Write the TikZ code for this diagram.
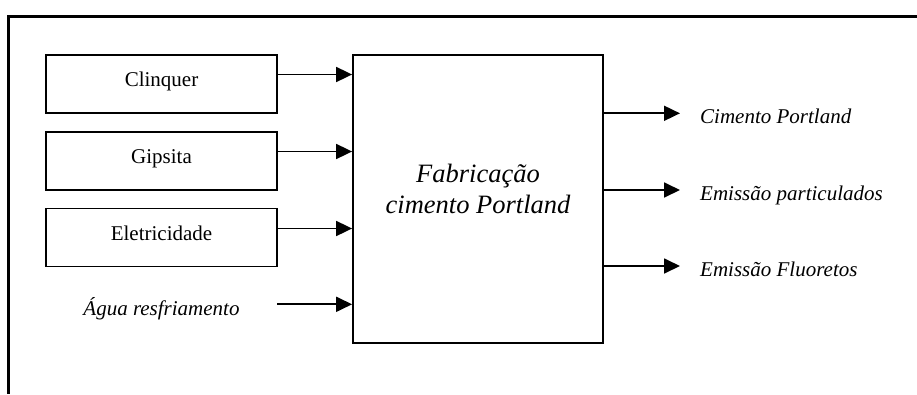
\documentclass[tikz,border=0pt]{standalone}
\usepackage{fontspec}
\setmainfont{Liberation Serif}
\usetikzlibrary{arrows.meta}
\begin{document}
\begin{tikzpicture}[x=1pt,y=-1pt,
  inbox/.style={draw,line width=1.8pt,minimum width=231pt,minimum height=58pt,inner sep=0pt,
    font=\fontsize{21}{25}\selectfont,text height=14.5pt,text depth=9.5pt},
  flow/.style={line width=1.8pt,-{Triangle[length=16pt,width=15pt]}},
  lbl/.style={anchor=base west,inner sep=0pt,font=\fontsize{21}{25}\selectfont\itshape}]
\useasboundingbox (0,0) rectangle (917,394);
% frame
\draw[line width=2.3pt] (917,16.5) -- (8.5,16.5) -- (8.5,394);
% input boxes
\node[inbox] (clinquer) at (161.5,84) {Clinquer};
\node[inbox] (gipsita) at (161.5,161) {Gipsita};
\node[inbox] (eletric) at (161.5,237.5) {Eletricidade};
% main box
\node[draw,line width=1.8pt,minimum width=250pt,minimum height=288pt,inner sep=0pt] (main) at (478,199) {};
\node[align=center,inner sep=0pt,font=\fontsize{26.5}{31}\selectfont\itshape] (maintext) at (478,189)
  {Fabricação\\cimento Portland};
% water
\node[lbl,anchor=base] (agua) at (161.5,315) {Água resfriamento};
\coordinate (aguastart) at (277,304.3);
% input arrows
\draw[flow] ([yshift=9.5pt]clinquer.east) -- ([yshift=9.5pt]clinquer.east -| main.west);
\draw[flow] ([yshift=9.5pt]gipsita.east) -- ([yshift=9.5pt]gipsita.east -| main.west);
\draw[flow] ([yshift=9pt]eletric.east) -- ([yshift=9pt]eletric.east -| main.west);
\draw[flow] (aguastart) -- (aguastart -| main.west);
% outputs
\coordinate (o1) at (680,113.3);
\coordinate (o2) at (680,190);
\coordinate (o3) at (680,266);
\draw[flow] (o1 -| main.east) -- (o1);
\draw[flow] (o2 -| main.east) -- (o2);
\draw[flow] (o3 -| main.east) -- (o3);
\node[lbl] (out1) at (700,123.3) {Cimento Portland};
\node[lbl] (out2) at (700,200) {Emissão particulados};
\node[lbl] (out3) at (700,276) {Emissão Fluoretos};
\end{tikzpicture}
\end{document}
